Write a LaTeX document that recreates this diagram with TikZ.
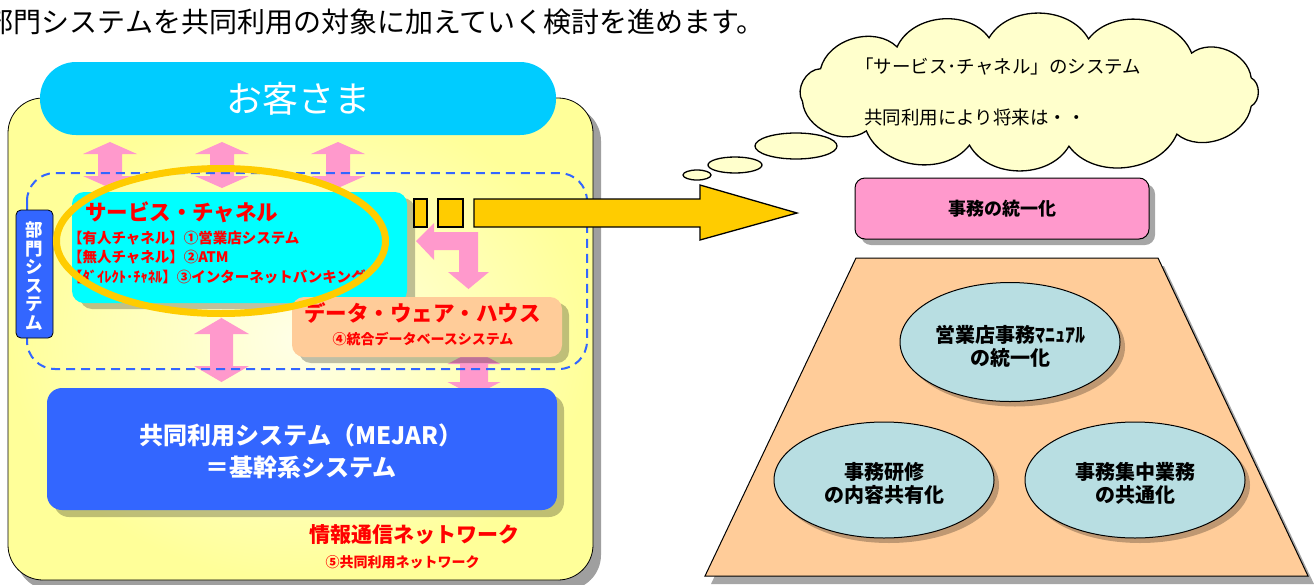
\documentclass[tikz,border=0pt]{standalone}
\usepackage{fontspec}
\setmainfont{Noto Sans CJK JP}
\usetikzlibrary{shapes.symbols,shapes.geometric}
\definecolor{ylout}{HTML}{FFFF99}
\definecolor{ylin}{HTML}{FFFFE8}
\definecolor{cust}{HTML}{00CCFF}
\definecolor{svc}{HTML}{00FFFF}
\definecolor{dwc}{HTML}{FFCC99}
\definecolor{mej}{HTML}{3366FF}
\definecolor{pk}{HTML}{FF99CC}
\definecolor{gold}{HTML}{FFCC00}
\definecolor{cloudc}{HTML}{FFFFCC}
\definecolor{eblue}{HTML}{B8DEE2}
\definecolor{redt}{HTML}{FF0000}
\newcommand\vdarrow[6]{\fill[pk] (#1,#2) -- (#1+#4,#2+#6) -- (#1+#5,#2+#6) -- (#1+#5,#3-#6) -- (#1+#4,#3-#6) -- (#1,#3) -- (#1-#4,#3-#6) -- (#1-#5,#3-#6) -- (#1-#5,#2+#6) -- (#1-#4,#2+#6) -- cycle;}
\tikzset{
  every node/.style={inner sep=0pt,outer sep=0pt},
  shd/.style={fill=black,fill opacity=0.25},
  redbig/.style={text=redt,font=\bfseries\fontsize{21.5}{24}\selectfont},
  redsmall/.style={text=redt,font=\bfseries\fontsize{14}{16}\selectfont},
  svcline/.style={text=redt,anchor=west,font=\bfseries\fontsize{14.5}{16}\selectfont},
  ovalbox/.style={ellipse,draw,fill=eblue,line width=1},
  ovaltext/.style={align=center,font=\bfseries\fontsize{20}{23}\selectfont},
  cloudtext/.style={anchor=west,font=\fontsize{18.5}{20}\selectfont},
  bubble/.style={ellipse,draw,fill=cloudc,line width=1.3},
  goldpart/.style={fill=gold,draw,line width=1.3}
}
\begin{document}
\begin{tikzpicture}[x=1pt,y=-1pt]
\useasboundingbox (0,0) rectangle (1314,584);

% title
\node[anchor=west,font=\fontsize{28}{30}\selectfont] (title) at (-14,22) {部門システムを共同利用の対象に加えていく検討を進めます。};

% big yellow base
\fill[gray!75,rounded corners=35] (16,106) rectangle (601,590);
\node[shade,inner color=ylin,outer color=ylout,draw,line width=0.8,rounded corners=35,minimum width=585,minimum height=482] (base) at (300.5,339) {};

% customer
\node[fill=cust,rounded corners=36,minimum width=516,minimum height=73,text=white,font=\fontsize{36}{40}\selectfont] (cust) at (298,98.5) {お客さま};

% top arrows
\vdarrow{110}{142}{188}{27}{12}{12}
\vdarrow{222}{142}{188}{27}{12}{12}
\vdarrow{338}{142}{188}{27}{12}{12}

% lower arrows (behind boxes)
\vdarrow{221.5}{318}{382}{27.5}{11.5}{16}
\vdarrow{474}{350}{396}{26.5}{14}{14}

% dashed frame
\draw[mej,line width=2,dash pattern=on 9 off 6,rounded corners=28] (27,173) rectangle (587,369);

% department label
\node[fill=mej,draw,line width=0.8,rounded corners=5,minimum width=37,minimum height=128] (bumon) at (34.5,274) {};
\node[text=white,align=center,font=\bfseries\fontsize{17.5}{18.5}\selectfont] (bumontext) at (34.5,276) {部\\門\\シ\\ス\\テ\\ム};

% service channel
\fill[shd,rounded corners=12] (80,198) rectangle (415,309);
\node[fill=svc,rounded corners=12,minimum width=335,minimum height=111] (svc) at (239.5,247.5) {};
\node[redbig,anchor=west] (svct) at (85,212) {サービス・チャネル};
\node[svcline] (l1) at (68,238) {【有人チャネル】①営業店システム};
\node[svcline] (l2) at (68,257) {【無人チャネル】②ATM};
\node[svcline] (l3) at (68,277) {【ﾀﾞｲﾚｸﾄ･ﾁｬﾈﾙ】③インターネットバンキング};

% bent pink arrow
\fill[pk] (416,241) -- (434,223) -- (434,232) -- (478,232) -- (478,272) -- (489,272) -- (468.5,289) -- (448,272) -- (459,272) -- (459,250) -- (434,250) -- (434,260) -- cycle;

% data warehouse
\fill[shd,rounded corners=12] (299,303) rectangle (569,363);
\node[fill=dwc,rounded corners=12,minimum width=270,minimum height=60] (dw) at (427,327) {};
\node[redbig] (dwt) at (422.5,313) {データ・ウェア・ハウス};
\node[redsmall] (dwt2) at (423,339) {④統合データベースシステム};

% MEJAR
\fill[shd,rounded corners=15] (54,395) rectangle (564,517);
\node[fill=mej,rounded corners=15,minimum width=510,minimum height=122] (mejar) at (302,449) {};
\node[text=white,align=center,font=\bfseries\fontsize{24}{32}\selectfont] (mejart) at (301,451) {共同利用システム（MEJAR）\\＝基幹系システム};

% network
\node[text=redt,font=\bfseries\fontsize{21}{24}\selectfont] (net) at (414,535) {情報通信ネットワーク};
\node[redsmall] (net2) at (402.5,562) {⑤共同利用ネットワーク};

% gold oval
\node[ellipse,draw=gold,line width=7,minimum width=329,minimum height=145] (oval) at (221,241) {};

% gold arrow
\node[goldpart,minimum width=13,minimum height=28] (sq1) at (420.5,213) {};
\node[goldpart,minimum width=25,minimum height=28] (sq2) at (450.5,213) {};
\draw[goldpart] (474,199) -- (700,199) -- (700,185) -- (797,213) -- (700,240) -- (700,227) -- (474,227) -- cycle;

% thought bubbles
\node[bubble,minimum width=28,minimum height=10] (b1) at (697,175) {};
\node[bubble,minimum width=54,minimum height=16] (b2) at (735,165) {};
\node[bubble,minimum width=82,minimum height=26] (b3) at (796,146) {};
\begin{scope}[shift={(1029,92)}]
\draw[fill=cloudc,line width=1.3] ({230*cos(15)},{55*sin(15)})
  \foreach \a in {50,80,105,135,170,205,235,260,285,315,345,375} { to[bend left=60] ({230*cos(\a)},{55*sin(\a)}) } -- cycle;
\end{scope}
\node[cloudtext] (c1) at (855,67) {「サービス･チャネル」のシステム};
\node[cloudtext] (c2) at (864,118) {共同利用により将来は・・};

% unify box
\fill[gray!70,rounded corners=10] (861,184) rectangle (1155,245);
\node[fill=pk,draw,line width=1,rounded corners=10,minimum width=294,minimum height=61,font=\bfseries\fontsize{18}{20}\selectfont] (unify) at (1002,208.5) {事務の統一化};

% trapezoid
\fill[gray!70] (862,266) -- (1164,266) -- (1314,584) -- (711,584) -- cycle;
\draw[fill=dwc,line width=1] (856,258) -- (1158,258) -- (1308,576) -- (705,576) -- cycle;

% ovals
\fill[shd] (1015,347) ellipse [x radius=110,y radius=59.5];
\fill[shd] (889,485) ellipse [x radius=110,y radius=58];
\fill[shd] (1140,485) ellipse [x radius=110,y radius=58];
\node[ovalbox,minimum width=220,minimum height=119] (e1) at (1010,342) {};
\node[ovalbox,minimum width=220,minimum height=116] (e2) at (884,480) {};
\node[ovalbox,minimum width=220,minimum height=116] (e3) at (1135,480) {};
\node[ovaltext] (e1t) at (1010,346) {営業店事務ﾏﾆｭｱﾙ\\の統一化};
\node[ovaltext] (e2t) at (884,483) {事務研修\\の内容共有化};
\node[ovaltext] (e3t) at (1135,483) {事務集中業務\\の共通化};
\end{tikzpicture}
\end{document}
